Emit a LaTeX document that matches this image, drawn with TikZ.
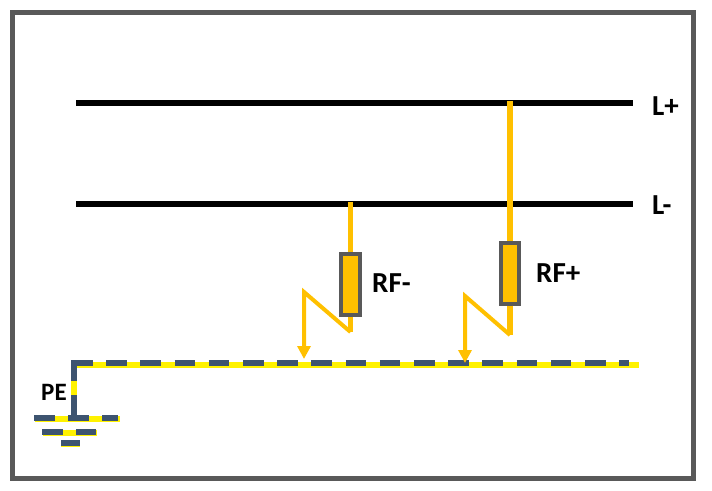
\documentclass[tikz,border=0pt]{standalone}
\usepackage{fontspec}
\setmainfont{Carlito}
\usetikzlibrary{arrows.meta}
\definecolor{framegray}{HTML}{595959}
\definecolor{relayorange}{HTML}{FFC000}
\definecolor{pedash}{HTML}{3D5470}
\tikzset{
	bus/.style={line width=6pt,black},
	feeder/.style={line width=5.5pt,relayorange},
	fault/.style={line width=4pt,relayorange,line join=miter},
	peyellow/.style={line width=6pt,yellow},
	pedark/.style={line width=6pt,pedash},
	pedashed/.style={pedark,dash pattern=on 20.5pt off 13.7pt},
	resistor/.style={draw=framegray,line width=4pt,fill=relayorange,minimum width=18.5pt,minimum height=61pt,inner sep=0pt},
	tag/.style={anchor=base west,inner sep=0pt,font=\bfseries\fontsize{29}{29}\selectfont}
}
\begin{document}
\begin{tikzpicture}[x=1pt,y=-1pt]
	\useasboundingbox (0,0) rectangle (712,490);
	\draw[line width=5pt,framegray](12.5,12.5) rectangle (693.5,478.5);
	
	% busbars
	\coordinate (Lp1) at (76,103);
	\coordinate (Lp2) at (633,103);
	\coordinate (Lm1) at (76,204);
	\coordinate (Lm2) at (633,204);
	\draw[bus](Lp1)--(Lp2);
	\draw[bus](Lm1)--(Lm2);
	
	% PE conductor
	\coordinate (PEend) at (639,365);
	\coordinate (PEcorner) at (73.5,365);
	\coordinate (PEfoot) at (73.5,418);
	\draw[peyellow](PEend)--(PEcorner)--(PEfoot);
	\draw[pedashed](72,363)--(629,363);
	\draw[pedark](74,360)--(74,381);
	\draw[pedark](74,395)--(74,416);
	
	% earth symbol
	\draw[peyellow](35,418.5)--(120,418.5);
	\draw[peyellow](43,432.5)--(97,432.5);
	\draw[peyellow](61,444)--(80,444);
	\draw[pedashed](34,418)--(118,418);
	\draw[pedashed](42,432)--(96,432);
	\draw[pedark](61,443)--(80,443);
	
	% resistors and connections
	\node[resistor] (RFm) at (350.5,284.5) {};
	\node[resistor] (RFp) at (510,273) {};
	\coordinate (Lmtap) at (350.5,202);
	\coordinate (Lptap) at (510,101);
	\coordinate (RFmend) at (350.5,332);
	\coordinate (RFpend) at (510,335);
	\draw[feeder](Lmtap)--(RFm.north);
	\draw[feeder](RFm.south)--(RFmend);
	\draw[feeder](Lptap)--(RFp.north);
	\draw[feeder](RFp.south)--(RFpend);
	
	\coordinate (RFmtop) at (304,292);
	\coordinate (RFmtip) at (304,359);
	\coordinate (RFptop) at (465,296);
	\coordinate (RFptip) at (465,363);
	\draw[fault,-{Triangle[length=13pt,width=13pt]}](RFmend)--(RFmtop)--(RFmtip);
	\draw[fault,-{Triangle[length=13pt,width=13pt]}](RFpend)--(RFptop)--(RFptip);
	
	\node[tag] (Lptext) at (652,115) {L+};
	\node[tag] (Lmtext) at (652,214) {L-};
	\node[tag] (RFmtext) at (372,292) {RF-};
	\node[tag] (RFptext) at (536,282) {RF+};
	\node[tag,font=\bfseries\fontsize{25}{25}\selectfont] (PEtext) at (41,400) {PE};
\end{tikzpicture}
\end{document}
